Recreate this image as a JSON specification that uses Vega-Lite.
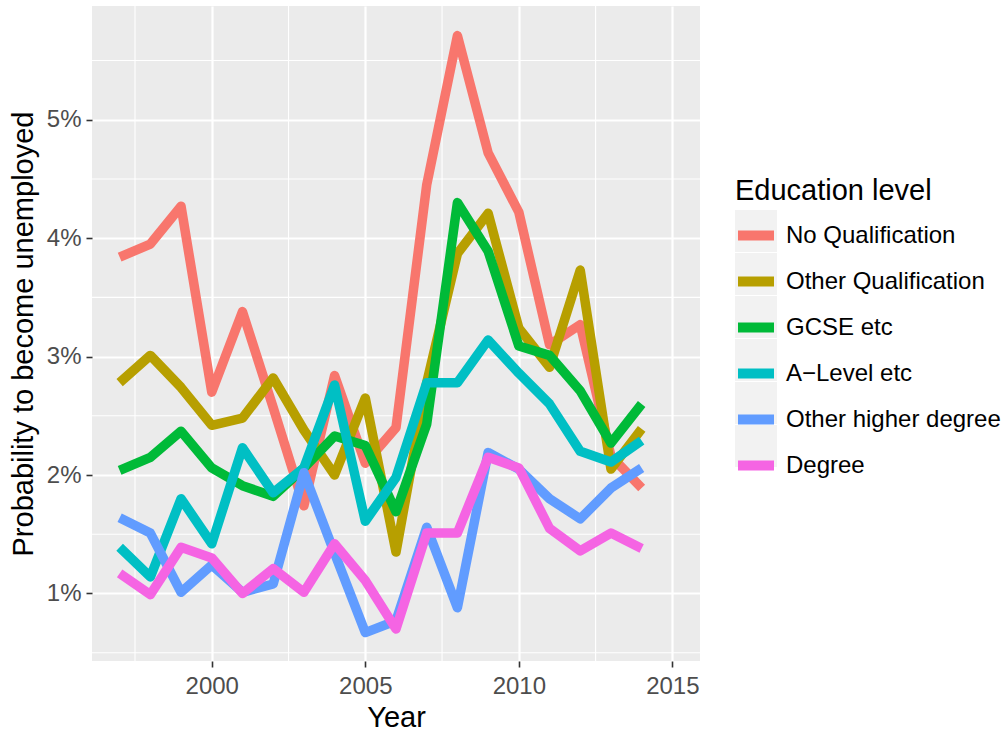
{
  "$schema": "https://vega.github.io/schema/vega-lite/v6.json",
  "width": 608,
  "height": 655,
  "padding": {"left": 9, "top": 5, "right": 5, "bottom": 5},
  "autosize": {"type": "pad"},
  "view": {"fill": "#EBEBEB", "stroke": null},
  "datasets": {
    "gridx": [{"year": 1997.5}, {"year": 2002.5}, {"year": 2007.5}, {"year": 2012.5}],
    "gridy": [{"rate": 0.005}, {"rate": 0.015}, {"rate": 0.025}, {"rate": 0.035}, {"rate": 0.045}, {"rate": 0.055}],
    "keys": [{"key": "No Qualification"}, {"key": "Other Qualification"}, {"key": "GCSE etc"}, {"key": "A\u2212Level etc"}, {"key": "Other higher degree"}, {"key": "Degree"}],
    "series": [
      {"year": 1997, "level": "No Qualification", "rate": 0.0384},
      {"year": 1998, "level": "No Qualification", "rate": 0.0395},
      {"year": 1999, "level": "No Qualification", "rate": 0.0427},
      {"year": 2000, "level": "No Qualification", "rate": 0.0270},
      {"year": 2001, "level": "No Qualification", "rate": 0.0338},
      {"year": 2002, "level": "No Qualification", "rate": 0.0257},
      {"year": 2003, "level": "No Qualification", "rate": 0.0174},
      {"year": 2004, "level": "No Qualification", "rate": 0.0284},
      {"year": 2005, "level": "No Qualification", "rate": 0.0210},
      {"year": 2006, "level": "No Qualification", "rate": 0.0240},
      {"year": 2007, "level": "No Qualification", "rate": 0.0445},
      {"year": 2008, "level": "No Qualification", "rate": 0.0571},
      {"year": 2009, "level": "No Qualification", "rate": 0.0472},
      {"year": 2010, "level": "No Qualification", "rate": 0.0422},
      {"year": 2011, "level": "No Qualification", "rate": 0.0310},
      {"year": 2012, "level": "No Qualification", "rate": 0.0327},
      {"year": 2013, "level": "No Qualification", "rate": 0.0216},
      {"year": 2014, "level": "No Qualification", "rate": 0.0189},
      {"year": 1997, "level": "Other Qualification", "rate": 0.0278},
      {"year": 1998, "level": "Other Qualification", "rate": 0.0301},
      {"year": 1999, "level": "Other Qualification", "rate": 0.0274},
      {"year": 2000, "level": "Other Qualification", "rate": 0.0242},
      {"year": 2001, "level": "Other Qualification", "rate": 0.0248},
      {"year": 2002, "level": "Other Qualification", "rate": 0.0282},
      {"year": 2003, "level": "Other Qualification", "rate": 0.0238},
      {"year": 2004, "level": "Other Qualification", "rate": 0.0200},
      {"year": 2005, "level": "Other Qualification", "rate": 0.0265},
      {"year": 2006, "level": "Other Qualification", "rate": 0.0135},
      {"year": 2007, "level": "Other Qualification", "rate": 0.0278},
      {"year": 2008, "level": "Other Qualification", "rate": 0.0387},
      {"year": 2009, "level": "Other Qualification", "rate": 0.0421},
      {"year": 2010, "level": "Other Qualification", "rate": 0.0324},
      {"year": 2011, "level": "Other Qualification", "rate": 0.0291},
      {"year": 2012, "level": "Other Qualification", "rate": 0.0373},
      {"year": 2013, "level": "Other Qualification", "rate": 0.0205},
      {"year": 2014, "level": "Other Qualification", "rate": 0.0239},
      {"year": 1997, "level": "GCSE etc", "rate": 0.0204},
      {"year": 1998, "level": "GCSE etc", "rate": 0.0215},
      {"year": 1999, "level": "GCSE etc", "rate": 0.0237},
      {"year": 2000, "level": "GCSE etc", "rate": 0.0206},
      {"year": 2001, "level": "GCSE etc", "rate": 0.0191},
      {"year": 2002, "level": "GCSE etc", "rate": 0.0182},
      {"year": 2003, "level": "GCSE etc", "rate": 0.0206},
      {"year": 2004, "level": "GCSE etc", "rate": 0.0233},
      {"year": 2005, "level": "GCSE etc", "rate": 0.0225},
      {"year": 2006, "level": "GCSE etc", "rate": 0.0169},
      {"year": 2007, "level": "GCSE etc", "rate": 0.0243},
      {"year": 2008, "level": "GCSE etc", "rate": 0.0430},
      {"year": 2009, "level": "GCSE etc", "rate": 0.0389},
      {"year": 2010, "level": "GCSE etc", "rate": 0.0309},
      {"year": 2011, "level": "GCSE etc", "rate": 0.0301},
      {"year": 2012, "level": "GCSE etc", "rate": 0.0271},
      {"year": 2013, "level": "GCSE etc", "rate": 0.0227},
      {"year": 2014, "level": "GCSE etc", "rate": 0.0260},
      {"year": 1997, "level": "A\u2212Level etc", "rate": 0.0139},
      {"year": 1998, "level": "A\u2212Level etc", "rate": 0.0114},
      {"year": 1999, "level": "A\u2212Level etc", "rate": 0.0180},
      {"year": 2000, "level": "A\u2212Level etc", "rate": 0.0142},
      {"year": 2001, "level": "A\u2212Level etc", "rate": 0.0223},
      {"year": 2002, "level": "A\u2212Level etc", "rate": 0.0185},
      {"year": 2003, "level": "A\u2212Level etc", "rate": 0.0206},
      {"year": 2004, "level": "A\u2212Level etc", "rate": 0.0276},
      {"year": 2005, "level": "A\u2212Level etc", "rate": 0.0161},
      {"year": 2006, "level": "A\u2212Level etc", "rate": 0.0198},
      {"year": 2007, "level": "A\u2212Level etc", "rate": 0.0278},
      {"year": 2008, "level": "A\u2212Level etc", "rate": 0.0278},
      {"year": 2009, "level": "A\u2212Level etc", "rate": 0.0314},
      {"year": 2010, "level": "A\u2212Level etc", "rate": 0.0286},
      {"year": 2011, "level": "A\u2212Level etc", "rate": 0.0260},
      {"year": 2012, "level": "A\u2212Level etc", "rate": 0.0220},
      {"year": 2013, "level": "A\u2212Level etc", "rate": 0.0211},
      {"year": 2014, "level": "A\u2212Level etc", "rate": 0.0229},
      {"year": 1997, "level": "Other higher degree", "rate": 0.0164},
      {"year": 1998, "level": "Other higher degree", "rate": 0.0151},
      {"year": 1999, "level": "Other higher degree", "rate": 0.0101},
      {"year": 2000, "level": "Other higher degree", "rate": 0.0124},
      {"year": 2001, "level": "Other higher degree", "rate": 0.0101},
      {"year": 2002, "level": "Other higher degree", "rate": 0.0108},
      {"year": 2003, "level": "Other higher degree", "rate": 0.0202},
      {"year": 2004, "level": "Other higher degree", "rate": 0.0134},
      {"year": 2005, "level": "Other higher degree", "rate": 0.0067},
      {"year": 2006, "level": "Other higher degree", "rate": 0.0077},
      {"year": 2007, "level": "Other higher degree", "rate": 0.0156},
      {"year": 2008, "level": "Other higher degree", "rate": 0.0088},
      {"year": 2009, "level": "Other higher degree", "rate": 0.0219},
      {"year": 2010, "level": "Other higher degree", "rate": 0.0205},
      {"year": 2011, "level": "Other higher degree", "rate": 0.0180},
      {"year": 2012, "level": "Other higher degree", "rate": 0.0163},
      {"year": 2013, "level": "Other higher degree", "rate": 0.0189},
      {"year": 2014, "level": "Other higher degree", "rate": 0.0206},
      {"year": 1997, "level": "Degree", "rate": 0.0117},
      {"year": 1998, "level": "Degree", "rate": 0.0099},
      {"year": 1999, "level": "Degree", "rate": 0.0139},
      {"year": 2000, "level": "Degree", "rate": 0.0130},
      {"year": 2001, "level": "Degree", "rate": 0.0100},
      {"year": 2002, "level": "Degree", "rate": 0.0121},
      {"year": 2003, "level": "Degree", "rate": 0.0101},
      {"year": 2004, "level": "Degree", "rate": 0.0142},
      {"year": 2005, "level": "Degree", "rate": 0.0111},
      {"year": 2006, "level": "Degree", "rate": 0.0070},
      {"year": 2007, "level": "Degree", "rate": 0.0151},
      {"year": 2008, "level": "Degree", "rate": 0.0151},
      {"year": 2009, "level": "Degree", "rate": 0.0215},
      {"year": 2010, "level": "Degree", "rate": 0.0206},
      {"year": 2011, "level": "Degree", "rate": 0.0155},
      {"year": 2012, "level": "Degree", "rate": 0.0136},
      {"year": 2013, "level": "Degree", "rate": 0.0151},
      {"year": 2014, "level": "Degree", "rate": 0.0138}
    ]
  },
  "layer": [
    {
      "data": {"name": "gridx"},
      "mark": {"type": "rule", "color": "#FFFFFF", "strokeWidth": 1.1},
      "encoding": {
        "x": {"field": "year", "type": "quantitative", "title": "Year", "scale": {"domain": [1996.1, 2015.9], "nice": false, "zero": false}}
      }
    },
    {
      "data": {"name": "gridy"},
      "mark": {"type": "rule", "color": "#FFFFFF", "strokeWidth": 1.1},
      "encoding": {
        "y": {"field": "rate", "type": "quantitative", "title": "Probability to become unemployed", "scale": {"domain": [0.0043, 0.0596], "nice": false, "zero": false}}
      }
    },
    {
      "data": {"name": "series"},
      "mark": {"type": "line", "strokeWidth": 9.5, "strokeCap": "butt", "strokeJoin": "round"},
      "encoding": {
        "x": {
          "field": "year", "type": "quantitative", "title": "Year",
          "scale": {"domain": [1996.1, 2015.9], "nice": false, "zero": false},
          "axis": {"values": [2000, 2005, 2010, 2015], "format": "d", "titlePadding": 5, "labelPadding": 7}
        },
        "y": {
          "field": "rate", "type": "quantitative", "title": "Probability to become unemployed",
          "scale": {"domain": [0.0043, 0.0596], "nice": false, "zero": false},
          "axis": {"values": [0.01, 0.02, 0.03, 0.04, 0.05], "format": ".0%", "titlePadding": 8, "labelPadding": 5}
        },
        "color": {
          "field": "level", "type": "nominal", "sort": null,
          "scale": {
            "domain": ["No Qualification", "Other Qualification", "GCSE etc", "A\u2212Level etc", "Other higher degree", "Degree"],
            "range": ["#F8766D", "#B79F00", "#00BA38", "#00BFC4", "#619CFF", "#F564E3"]
          },
          "legend": {
            "title": null,
            "orient": "none", "legendX": 638, "legendY": 203.5,
            "symbolType": "M-0.857,0H0.857",
            "symbolSize": 1764, "symbolStrokeWidth": 10,
            "labelOffset": 4, "rowPadding": -4,
            "zindex": 2
          }
        }
      }
    },
    {
      "data": {"name": "keys"},
      "mark": {"type": "point", "opacity": 0, "filled": true},
      "encoding": {
        "fill": {
          "field": "key", "type": "nominal", "sort": null,
          "scale": {"range": ["#F2F2F2", "#F2F2F2", "#F2F2F2", "#F2F2F2", "#F2F2F2", "#F2F2F2"]},
          "legend": {
            "title": "Education level",
            "orient": "none", "legendX": 643, "legendY": 170.5,
            "symbolType": "square", "symbolSize": 1764, "symbolStrokeWidth": 0, "symbolOpacity": 1,
            "labelExpr": "''", "labelOpacity": 0,
            "labelOffset": 7, "rowPadding": 1, "titlePadding": 4.5,
            "zindex": 1
          }
        }
      }
    }
  ],
  "config": {
    "font": "Liberation Sans",
    "view": {"fill": "#EBEBEB", "stroke": null},
    "axis": {
      "domain": false,
      "grid": true, "gridColor": "#FFFFFF", "gridWidth": 2.2,
      "tickColor": "#333333", "tickSize": 6, "tickWidth": 1.6,
      "labelFont": "Liberation Sans", "labelFontSize": 24, "labelColor": "#4D4D4D",
      "labelFlush": false, "labelOverlap": false,
      "titleFont": "Liberation Sans", "titleFontSize": 29, "titleFontWeight": "normal", "titleColor": "#000000"
    },
    "legend": {
      "titleFont": "Liberation Sans", "titleFontSize": 29, "titleFontWeight": "normal", "titleColor": "#000000",
      "labelFont": "Liberation Sans", "labelFontSize": 24, "labelColor": "#000000",
      "labelLimit": 400, "titleLimit": 400
    }
  }
}
